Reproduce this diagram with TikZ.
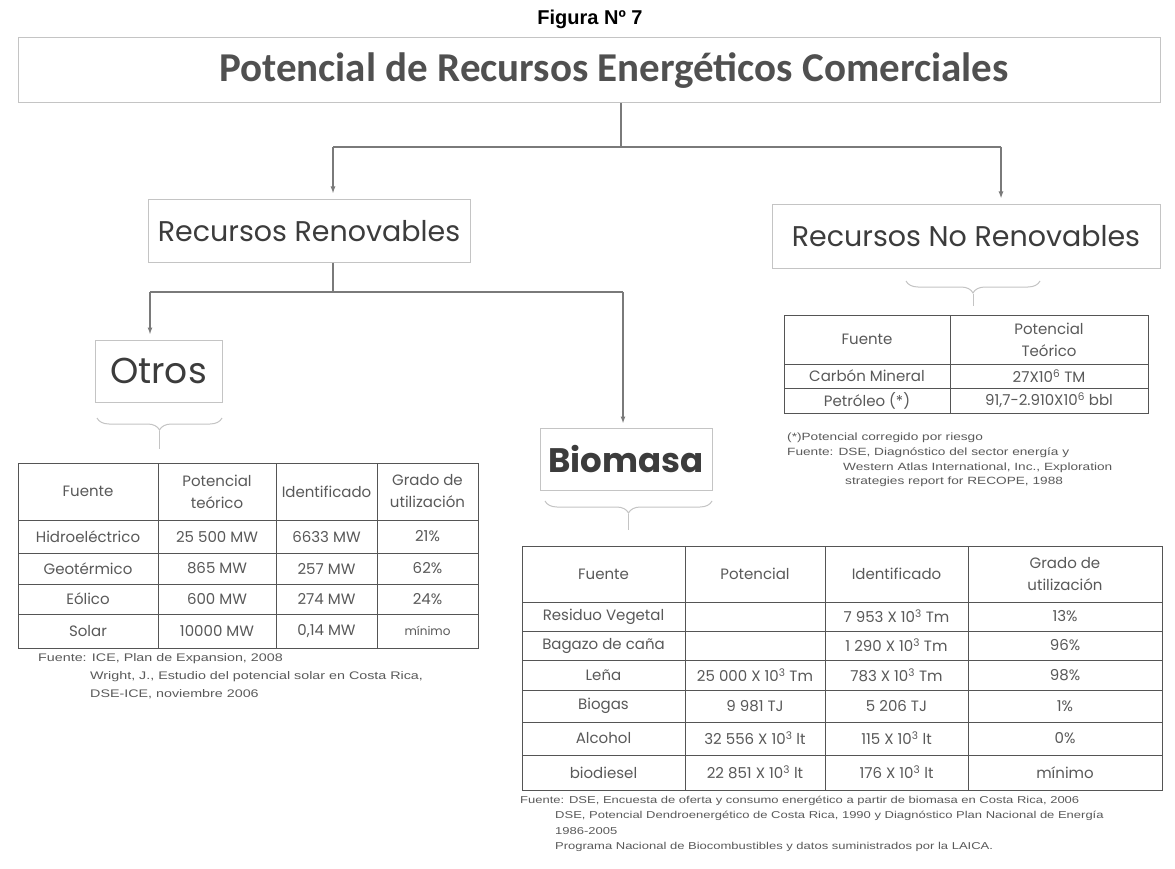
\documentclass[tikz,border=0pt]{standalone}
\usepackage{fontspec}
\setmainfont{Liberation Sans}
\newfontfamily\titlefont{Carlito}
\newfontfamily\comic{Poppins}
\newfontfamily\notefont[FakeStretch=1.3]{Liberation Sans}
\usetikzlibrary{arrows.meta,decorations.pathreplacing,calc}
\definecolor{boxline}{HTML}{C4C4C4}
\definecolor{connc}{HTML}{7A7A7A}
\definecolor{tabline}{HTML}{555555}
\definecolor{txtdark}{HTML}{3C3C3C}
\definecolor{notec}{HTML}{5A5A5A}
\tikzset{
  hbox/.style={draw=boxline, line width=1pt, fill=white, inner sep=0pt, text=txtdark},
  conn/.style={draw=connc, line width=1.3pt},
  arr/.style={draw=connc, line width=1.3pt, -{Latex[length=7pt,width=5pt]}},
  brc/.style={draw=boxline, line width=1pt, decorate, decoration={brace, amplitude=12pt}},
  faint/.style={draw=boxline, line width=1pt},
  tab/.style={draw=tabline, line width=1pt},
  cell/.style={font=\comic\fontsize{15}{22}\selectfont, text=txtdark!85, align=center, inner sep=0pt},
  note/.style={font=\notefont\fontsize{10}{12}\selectfont, text=notec, anchor=west, inner sep=0pt},
  noteb/.style={note, font=\notefont\fontsize{10.5}{12}\selectfont},
  notec/.style={note, font=\notefont\fontsize{11}{13}\selectfont},
}
\begin{document}
\begin{tikzpicture}[x=1pt,y=-1pt]
\useasboundingbox[fill=white] (0,0) rectangle (1175,869);

% headings
\node[font=\bfseries\fontsize{20}{24}\selectfont, text=black] (fig) at (590,19) {Figura Nº 7};
\node[hbox, minimum width=1142pt, minimum height=65pt, font=\titlefont\bfseries\fontsize{41}{44}\selectfont, text=txtdark!90] (title) at (589,70.5) {\hspace*{50pt}Potencial de Recursos Energéticos Comerciales};
\node[hbox, minimum width=322pt, minimum height=62pt, font=\comic\fontsize{28.5}{32}\selectfont] (rr) at (309,231) {Recursos Renovables};
\node[hbox, minimum width=388pt, minimum height=63pt, font=\comic\fontsize{28.5}{32}\selectfont] (rn) at (966,236.5) {Recursos No Renovables};
\node[hbox, minimum width=127pt, minimum height=62pt, font=\comic\fontsize{36}{40}\selectfont] (ot) at (158.5,371) {Otros};
\node[hbox, minimum width=172pt, minimum height=62pt, font=\comic\bfseries\fontsize{34}{38}\selectfont] (bio) at (626,459) {Biomasa};

% connectors
\coordinate (j1) at (621,147);
\coordinate (jL) at (333,147);
\coordinate (jR) at (1001,147);
\draw[conn] (title.south -| j1) -- (j1);
\draw[conn] (jL) -- (jR);
\draw[arr] (jL) -- ($(jL |- rr.north)+(0,-6)$);
\draw[arr] (jR) -- ($(jR |- rn.north)+(0,-6)$);
\coordinate (k1) at (333,292);
\coordinate (kL) at (150,292);
\coordinate (kR) at (623,292);
\draw[conn] (rr.south -| k1) -- (k1);
\draw[conn] (kL) -- (kR);
\draw[arr] (kL) -- ($(kL |- ot.north)+(0,-5)$);
\draw[arr] (kR) -- ($(kR |- bio.north)+(0,-4)$);

% braces
\draw[brc] (222,418) -- (97,418);
\draw[faint] (159.5,431) -- (159.5,449);
\draw[brc] (712,501) -- (545,501);
\draw[faint] (628.5,514) -- (628.5,530);
\draw[brc] (1040,281) -- (906,281);
\draw[faint] (973,294) -- (973,306);

% ---- No renovables table
\draw[tab] (784,315) rectangle (1148,413);
\draw[tab] (950,315) -- (950,413);
\draw[tab] (784,364) -- (1148,364);
\draw[tab] (784,388) -- (1148,388);
\node[cell] (n11) at (867,339.5) {Fuente};
\node[cell] (n12) at (1049,339.5) {Potencial\\Teórico};
\node[cell] (n21) at (867,376) {Carbón Mineral};
\node[cell] (n22) at (1049,376) {27X10\textsuperscript{6} TM};
\node[cell] (n31) at (867,400.5) {Petróleo (*)};
\node[cell] (n32) at (1049,400.5) {91,7-2.910X10\textsuperscript{6} bbl};

\node[noteb] (nn1) at (787,438) {(*)Potencial corregido por riesgo};
\node[noteb] (nn2) at (787,453) {Fuente: DSE, Diagnóstico del sector energía y};
\node[noteb] (nn3) at (843,468) {Western Atlas International, Inc., Exploration};
\node[noteb] (nn4) at (845,482) {strategies report for RECOPE, 1988};

% ---- Otros table
\draw[tab] (18,463) rectangle (478,648);
\foreach \x in {158,276,377} \draw[tab] (\x,463) -- (\x,648);
\foreach \y in {520,553,584,614} \draw[tab] (18,\y) -- (478,\y);
\node[cell] (o11) at (88,491.5) {Fuente};
\node[cell] (o12) at (217,491.5) {Potencial\\teórico};
\node[cell] (o13) at (326.5,491.5) {Identificado};
\node[cell] (o14) at (427.5,491.5) {Grado de\\utilización};
\node[cell] (o21) at (88,536.5) {Hidroeléctrico};
\node[cell] (o22) at (217,536.5) {25 500 MW};
\node[cell] (o23) at (326.5,536.5) {6633 MW};
\node[cell] (o24) at (427.5,536.5) {21\%};
\node[cell] (o31) at (88,568.5) {Geotérmico};
\node[cell] (o32) at (217,568.5) {865 MW};
\node[cell] (o33) at (326.5,568.5) {257 MW};
\node[cell] (o34) at (427.5,568.5) {62\%};
\node[cell] (o41) at (88,599) {Eólico};
\node[cell] (o42) at (217,599) {600 MW};
\node[cell] (o43) at (326.5,599) {274 MW};
\node[cell] (o44) at (427.5,599) {24\%};
\node[cell] (o51) at (88,631) {Solar};
\node[cell] (o52) at (217,631) {10000 MW};
\node[cell] (o53) at (326.5,631) {0,14 MW};
\node[cell, font=\comic\fontsize{12}{14}\selectfont] (o54) at (427.5,631) {mínimo};

\node[notec] (on1) at (38,659) {Fuente: ICE,  Plan de Expansion, 2008};
\node[notec] (on2) at (90,677) {Wright, J., Estudio del potencial solar en Costa Rica,};
\node[notec] (on3) at (90,694) {DSE-ICE, noviembre 2006};

% ---- Biomasa table
\draw[tab] (522,546) rectangle (1162,790);
\foreach \x in {685,825,968} \draw[tab] (\x,546) -- (\x,790);
\foreach \y in {602,631,660,690,722,755} \draw[tab] (522,\y) -- (1162,\y);
\node[cell] (b11) at (603.5,574) {Fuente};
\node[cell] (b12) at (755,574) {Potencial};
\node[cell] (b13) at (896.5,574) {Identificado};
\node[cell] (b14) at (1065,574) {Grado de\\utilización};
\node[cell] (b21) at (603.5,616.5) {Residuo Vegetal};
\node[cell] (b23) at (896.5,616.5) {7 953 X 10\textsuperscript{3} Tm};
\node[cell] (b24) at (1065,616.5) {13\%};
\node[cell] (b31) at (603.5,645.5) {Bagazo de caña};
\node[cell] (b33) at (896.5,645.5) {1 290 X 10\textsuperscript{3} Tm};
\node[cell] (b34) at (1065,645.5) {96\%};
\node[cell] (b41) at (603.5,675) {Leña};
\node[cell] (b42) at (755,675) {25 000 X 10\textsuperscript{3} Tm};
\node[cell] (b43) at (896.5,675) {783 X 10\textsuperscript{3} Tm};
\node[cell] (b44) at (1065,675) {98\%};
\node[cell] (b51) at (603.5,706) {Biogas};
\node[cell] (b52) at (755,706) {9 981 TJ};
\node[cell] (b53) at (896.5,706) {5 206 TJ};
\node[cell] (b54) at (1065,706) {1\%};
\node[cell] (b61) at (603.5,738.5) {Alcohol};
\node[cell] (b62) at (755,738.5) {32 556 X 10\textsuperscript{3} lt};
\node[cell] (b63) at (896.5,738.5) {115 X 10\textsuperscript{3} lt};
\node[cell] (b64) at (1065,738.5) {0\%};
\node[cell] (b71) at (603.5,772.5) {biodiesel};
\node[cell] (b72) at (755,772.5) {22 851 X 10\textsuperscript{3} lt};
\node[cell] (b73) at (896.5,772.5) {176 X 10\textsuperscript{3} lt};
\node[cell] (b74) at (1065,772.5) {mínimo};

\node[note] (bn1) at (520,801) {Fuente: DSE, Encuesta de oferta y consumo energético a partir de biomasa en Costa Rica, 2006};
\node[note] (bn2) at (555,816) {DSE, Potencial Dendroenergético de Costa Rica, 1990 y Diagnóstico Plan Nacional de Energía};
\node[note] (bn3) at (555,831) {1986-2005};
\node[note] (bn4) at (555,847) {Programa Nacional de Biocombustibles y datos suministrados por la LAICA.};
\end{tikzpicture}
\end{document}
